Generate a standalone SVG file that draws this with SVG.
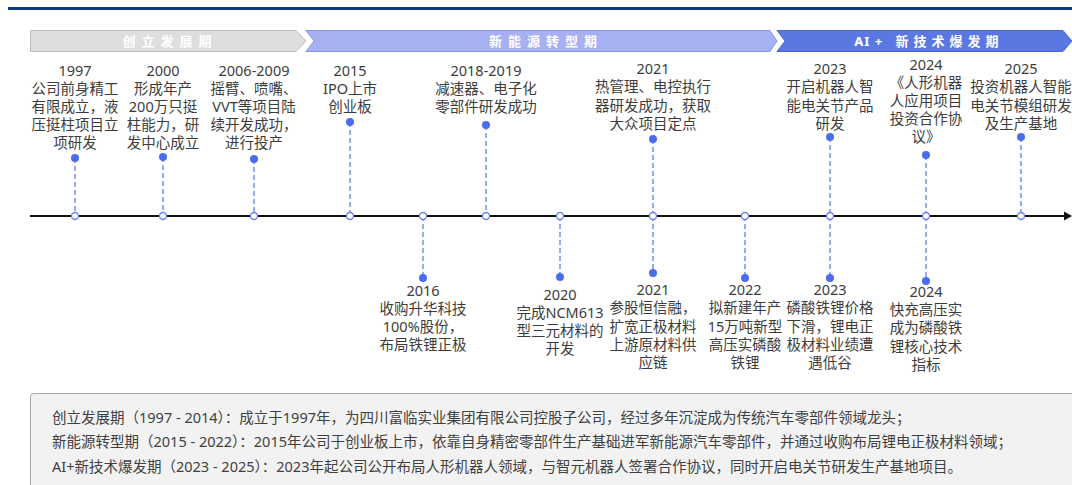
<svg xmlns="http://www.w3.org/2000/svg" width="1072" height="485" viewBox="0 0 1072 485">
<defs>
<style>
.t{font-family:"Noto Sans","Noto Sans CJK SC",sans-serif;font-size:14.5px;fill:#3c3c3c;text-anchor:middle}
.b{font-family:"Noto Sans","Noto Sans CJK SC",sans-serif;font-size:13px;font-weight:bold;fill:#ffffff;text-anchor:middle;letter-spacing:6px}
.n{font-family:"Noto Sans","Noto Sans CJK SC",sans-serif;font-size:14.5px;fill:#404040}
.d{stroke:#6b88f5;stroke-width:1.4;stroke-dasharray:5,3;fill:none}
.dot{fill:#4a6cf0}
.oc{fill:#ffffff;stroke:#6a86f0;stroke-width:1.4}
</style>
</defs>
<rect width="1072" height="485" fill="#ffffff"/>
<rect x="8" y="7" width="1064" height="3" fill="#0d3b7c"/>
<g id="phase1">
<polygon points="30.5,30.5 296,30.5 306,41 296,51.5 30.5,51.5" fill="#dedede" stroke="#bcbcbc" stroke-width="1"/>
<text class="b" x="170" y="46">创立发展期</text>
</g>
<g id="phase2">
<polygon points="306,30.5 770,30.5 777,41 770,51.5 306,51.5 314,41" fill="#a6b0f2" stroke="#8494ec" stroke-width="1"/>
<text class="b" x="546" y="46">新能源转型期</text>
</g>
<g id="phase3">
<polygon points="777,30.5 1063,30.5 1072,41 1063,51.5 777,51.5 785,41" fill="#5b78e2" stroke="#4a66d0" stroke-width="1"/>
<text class="b" x="929" y="46" style="letter-spacing:5px"><tspan style="letter-spacing:1px">AI </tspan>+ 新技术爆发期</text>
</g>
<g id="connectors">
<line x1="30" y1="216" x2="1065" y2="216" stroke="#111" stroke-width="2"/>
<polygon points="1064,211.5 1072,216 1064,220.5" fill="#111"/>
<line class="d" x1="75" y1="158" x2="75" y2="216"/>
<line class="d" x1="163" y1="157" x2="163" y2="216"/>
<line class="d" x1="254" y1="159" x2="254" y2="216"/>
<line class="d" x1="350" y1="122" x2="350" y2="216"/>
<line class="d" x1="486" y1="125" x2="486" y2="216"/>
<line class="d" x1="653" y1="139" x2="653" y2="216"/>
<line class="d" x1="830" y1="137" x2="830" y2="216"/>
<line class="d" x1="926" y1="155" x2="926" y2="216"/>
<line class="d" x1="1021" y1="137" x2="1021" y2="216"/>
<line class="d" x1="423" y1="216" x2="423" y2="278"/>
<line class="d" x1="560" y1="216" x2="560" y2="277"/>
<line class="d" x1="653" y1="216" x2="653" y2="273"/>
<line class="d" x1="745" y1="216" x2="745" y2="278"/>
<line class="d" x1="830" y1="216" x2="830" y2="278"/>
<line class="d" x1="926" y1="216" x2="926" y2="281"/>
</g>
<g id="e1997"><circle class="dot" cx="75" cy="158" r="4"/><circle class="oc" cx="75" cy="216" r="3.5"/>
<text class="t" x="75" y="76">1997</text><text class="t" x="75" y="94">公司前身精工</text><text class="t" x="75" y="112">有限成立，液</text><text class="t" x="75" y="130">压挺柱项目立</text><text class="t" x="75" y="148">项研发</text></g>
<g id="e2000"><circle class="dot" cx="163" cy="157" r="4"/><circle class="oc" cx="163" cy="216" r="3.5"/>
<text class="t" x="163" y="76">2000</text><text class="t" x="163" y="94">形成年产</text><text class="t" x="163" y="112">200万只挺</text><text class="t" x="163" y="130">柱能力，研</text><text class="t" x="163" y="148">发中心成立</text></g>
<g id="e2006"><circle class="dot" cx="254" cy="159" r="4"/><circle class="oc" cx="254" cy="216" r="3.5"/>
<text class="t" x="254" y="76">2006-2009</text><text class="t" x="254" y="94">摇臂、喷嘴、</text><text class="t" x="254" y="112">VVT等项目陆</text><text class="t" x="254" y="130">续开发成功，</text><text class="t" x="254" y="148">进行投产</text></g>
<g id="e2015"><circle class="dot" cx="350" cy="122" r="4"/><circle class="oc" cx="350" cy="216" r="3.5"/>
<text class="t" x="350" y="76">2015</text><text class="t" x="350" y="94">IPO上市</text><text class="t" x="350" y="112">创业板</text></g>
<g id="e2016"><circle class="dot" cx="423" cy="278" r="4"/><circle class="oc" cx="423" cy="216" r="3.5"/>
<text class="t" x="423" y="296">2016</text><text class="t" x="423" y="314">收购升华科技</text><text class="t" x="423" y="332">100%股份，</text><text class="t" x="423" y="350">布局铁锂正极</text></g>
<g id="e2018"><circle class="dot" cx="486" cy="125" r="4"/><circle class="oc" cx="486" cy="216" r="3.5"/>
<text class="t" x="486" y="76">2018-2019</text><text class="t" x="486" y="94">减速器、电子化</text><text class="t" x="486" y="112">零部件研发成功</text></g>
<g id="e2020"><circle class="dot" cx="560" cy="277" r="4"/><circle class="oc" cx="560" cy="216" r="3.5"/>
<text class="t" x="560" y="300">2020</text><text class="t" x="560" y="318">完成NCM613</text><text class="t" x="560" y="336">型三元材料的</text><text class="t" x="560" y="354">开发</text></g>
<g id="e2021a"><circle class="dot" cx="653" cy="139" r="4"/><circle class="oc" cx="653" cy="216" r="3.5"/>
<text class="t" x="653" y="74">2021</text><text class="t" x="653" y="92">热管理、电控执行</text><text class="t" x="653" y="111">器研发成功，获取</text><text class="t" x="653" y="129">大众项目定点</text></g>
<g id="e2021b"><circle class="dot" cx="653" cy="273" r="4"/>
<text class="t" x="653" y="295">2021</text><text class="t" x="653" y="313">参股恒信融，</text><text class="t" x="653" y="332">扩宽正极材料</text><text class="t" x="653" y="350">上游原材料供</text><text class="t" x="653" y="368">应链</text></g>
<g id="e2022"><circle class="dot" cx="745" cy="278" r="4"/><circle class="oc" cx="745" cy="216" r="3.5"/>
<text class="t" x="745" y="295">2022</text><text class="t" x="745" y="313">拟新建年产</text><text class="t" x="745" y="332">15万吨新型</text><text class="t" x="745" y="350">高压实磷酸</text><text class="t" x="745" y="368">铁锂</text></g>
<g id="e2023a"><circle class="dot" cx="830" cy="137" r="4"/><circle class="oc" cx="830" cy="216" r="3.5"/>
<text class="t" x="830" y="74">2023</text><text class="t" x="830" y="92">开启机器人智</text><text class="t" x="830" y="111">能电关节产品</text><text class="t" x="830" y="129">研发</text></g>
<g id="e2023b"><circle class="dot" cx="830" cy="278" r="4"/>
<text class="t" x="830" y="295">2023</text><text class="t" x="830" y="313">磷酸铁锂价格</text><text class="t" x="830" y="332">下滑，锂电正</text><text class="t" x="830" y="350">极材料业绩遭</text><text class="t" x="830" y="368">遇低谷</text></g>
<g id="e2024a"><circle class="dot" cx="926" cy="155" r="4"/><circle class="oc" cx="926" cy="216" r="3.5"/>
<text class="t" x="926" y="70">2024</text><text class="t" x="926" y="88">《人形机器</text><text class="t" x="926" y="106">人应用项目</text><text class="t" x="926" y="124">投资合作协</text><text class="t" x="926" y="142">议》</text></g>
<g id="e2024b"><circle class="dot" cx="926" cy="281" r="4"/>
<text class="t" x="926" y="297">2024</text><text class="t" x="926" y="315">快充高压实</text><text class="t" x="926" y="333">成为磷酸铁</text><text class="t" x="926" y="352">锂核心技术</text><text class="t" x="926" y="370">指标</text></g>
<g id="e2025"><circle class="dot" cx="1021" cy="137" r="4"/><circle class="oc" cx="1021" cy="216" r="3.5"/>
<text class="t" x="1021" y="74">2025</text><text class="t" x="1021" y="92">投资机器人智能</text><text class="t" x="1021" y="111">电关节模组研发</text><text class="t" x="1021" y="129">及生产基地</text></g>
<g id="summary">
<rect x="30.5" y="393.5" width="1060" height="110" rx="3" fill="#f2f2f2" stroke="#a8a8a8" stroke-width="1"/>
<text class="n" x="52" y="423">创立发展期（1997 - 2014）：成立于1997年，为四川富临实业集团有限公司控股子公司，经过多年沉淀成为传统汽车零部件领域龙头；</text>
<text class="n" x="52" y="447">新能源转型期（2015 - 2022）：2015年公司于创业板上市，依靠自身精密零部件生产基础进军新能源汽车零部件，并通过收购布局锂电正极材料领域；</text>
<text class="n" x="52" y="472">AI+新技术爆发期（2023 - 2025）：2023年起公司公开布局人形机器人领域，与智元机器人签署合作协议，同时开启电关节研发生产基地项目。</text>
</g>
</svg>
